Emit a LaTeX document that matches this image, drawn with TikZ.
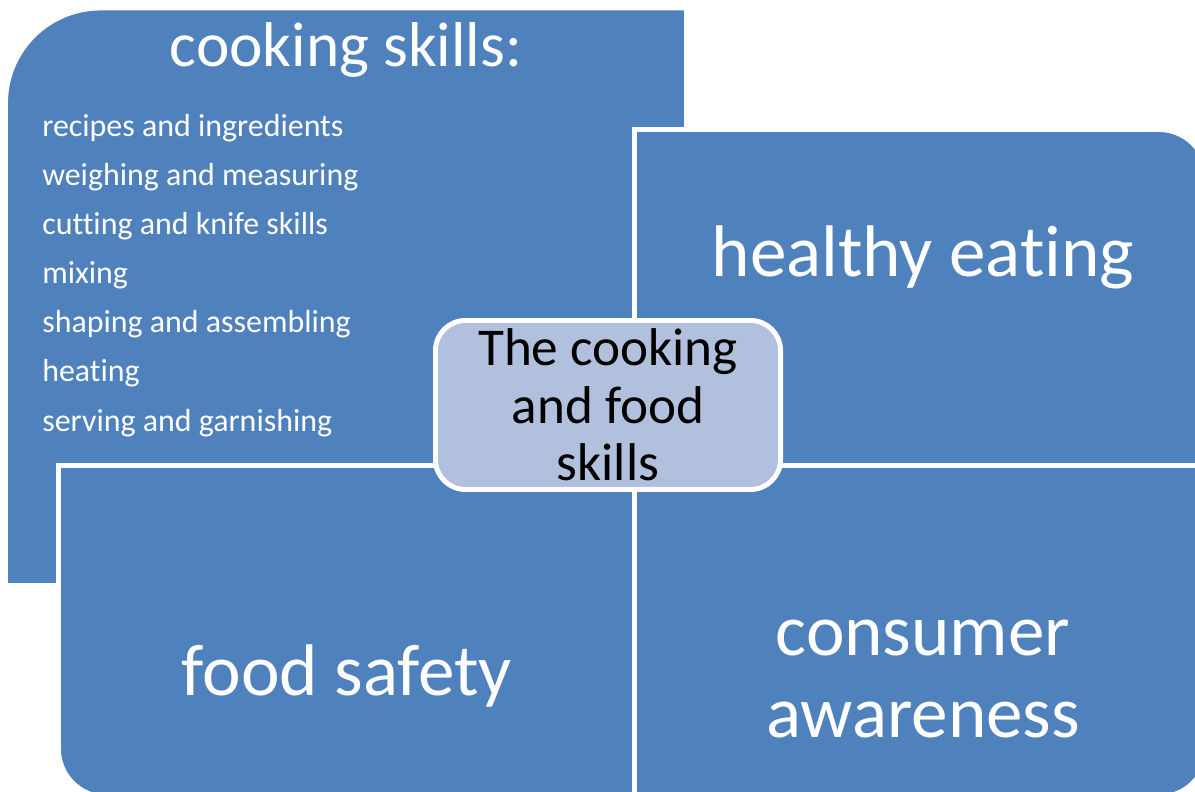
\documentclass[tikz,border=0pt]{standalone}
\usepackage{fontspec}
\setmainfont{Carlito}[Ligatures={NoCommon,NoContextual,NoRare}]
\usetikzlibrary{positioning}
\definecolor{panelblue}{HTML}{4F81BD}
\definecolor{hubblue}{HTML}{B1C0DC}
\tikzset{
  panel/.style={fill=panelblue, draw=white, line width=3.5pt},
  hub/.style={fill=hubblue, draw=white, line width=3.5pt, rounded corners=0.75cm,
    minimum width=8.625cm, minimum height=4.225cm, inner sep=0pt, align=center,
    font=\fontsize{37.8}{41}\selectfont},
  bigtext/.style={text=white, align=center, inner sep=0pt, font=\fontsize{52}{58}\selectfont},
  listitem/.style={text=white, anchor=base west, inner sep=0pt, font=\fontsize{22.7}{27}\selectfont}
}

\begin{document}
\begin{tikzpicture}[x=0.025cm, y=0.025cm]
     \useasboundingbox (0,0) rectangle (1195,791);
     \clip (0,0) rectangle (1195,791);
     \path[panel] (5.5,205.5) -- (5.5,688) arc[start angle=180, end angle=90, radius=2.375cm]
                  -- (686.5,783) -- (686.5,205.5) -- cycle;
     \path[panel] (634.5,325.5) -- (634.5,661.5) -- (1159,661.5)
                  arc[start angle=90, end angle=0, radius=1.2cm] -- (1207,325.5) -- cycle;
     \path[panel] (58.5,325.5) -- (634.5,325.5) -- (634.5,-6) -- (106.5,-6)
                  arc[start angle=270, end angle=180, radius=1.2cm] -- cycle;
     \path[panel] (634.5,325.5) -- (1207,325.5) -- (1207,42)
                  arc[start angle=0, end angle=-90, radius=1.2cm] -- (634.5,-6) -- cycle;
     \node[text=white, anchor=base, inner sep=0pt, font=\fontsize{45}{50}\selectfont]
          at (346,724) (cs) {cooking skills:};
     \foreach \skill [count=\i] in {recipes and ingredients, weighing and measuring,
          cutting and knife skills, mixing, shaping and assembling, heating,
          serving and garnishing}
          \node[listitem] at (42,{654-49*(\i-1)}) (item\i) {\skill};
     \node[bigtext, anchor=base] at (923,514) (he) {healthy eating};
     \node[bigtext, anchor=base] at (347,96) (fs) {food safety};
     \node[bigtext, anchor=base] at (923,54) (ca) {consumer\\awareness};
     \node[hub] at (608,386) (cf) {The cooking\\and food\\skills};
\end{tikzpicture}
\end{document}
